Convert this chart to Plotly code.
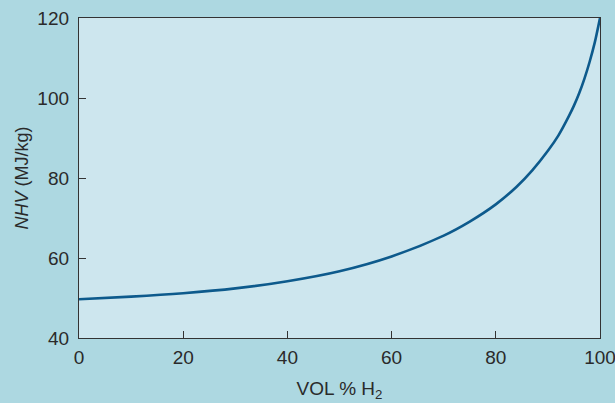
import plotly.graph_objects as go

vol_h2 = [0, 10, 20, 30, 40, 50, 60, 70, 75, 80, 84, 87, 90, 92, 94, 95, 96, 97, 98, 99, 100]
nhv = [49.7, 50.35, 51.2, 52.4, 54.2, 56.7, 60.4, 65.6, 69.1, 73.4, 77.8, 81.9, 86.8, 90.6, 95.4, 98.1, 101.2, 104.8, 109.0, 113.9, 120.0]

x_ticks = [0, 20, 40, 60, 80, 100]
y_ticks = [40, 60, 80, 100, 120]

font_family = "Liberation Sans, Arial, sans-serif"

fig = go.Figure()
fig.add_trace(go.Scatter(
    x=vol_h2, y=nhv, mode="lines",
    line=dict(color="#0d5a8c", width=2.6, shape="spline", smoothing=0.8),
    hoverinfo="skip", showlegend=False,
))

axis_common = dict(
    showline=True, linecolor="#333333", linewidth=1.3, mirror=True,
    ticks="inside", ticklen=7, tickwidth=1, tickcolor="#333333",
    showgrid=False, zeroline=False, automargin=False,
    ticklabeloverflow="allow",
    tickfont=dict(family=font_family, size=19, color="#2a2a2a"),
)

fig.update_layout(
    width=615, height=403,
    margin=dict(l=79, r=15, t=18, b=65),
    paper_bgcolor="#add8e1",
    plot_bgcolor="#cde6ee",
    font=dict(family=font_family, size=19, color="#2a2a2a"),
    xaxis=dict(
        range=[0, 100], tickvals=x_ticks, ticklabelstandoff=2,
        title=dict(text="VOL % H<sub>2</sub>", font=dict(family=font_family, size=19), standoff=14),
        **axis_common,
    ),
    yaxis=dict(
        range=[40, 120], tickvals=y_ticks, ticklabelstandoff=5,
        title=dict(text="<i>NHV</i> (MJ/kg)", font=dict(family=font_family, size=18), standoff=4),
        **axis_common,
    ),
)

fig.write_html(
    "out.html",
    config={"displayModeBar": False},
    post_script="document.body.style.margin='0';document.body.style.padding='0';document.body.style.background='#add8e1';",
)
